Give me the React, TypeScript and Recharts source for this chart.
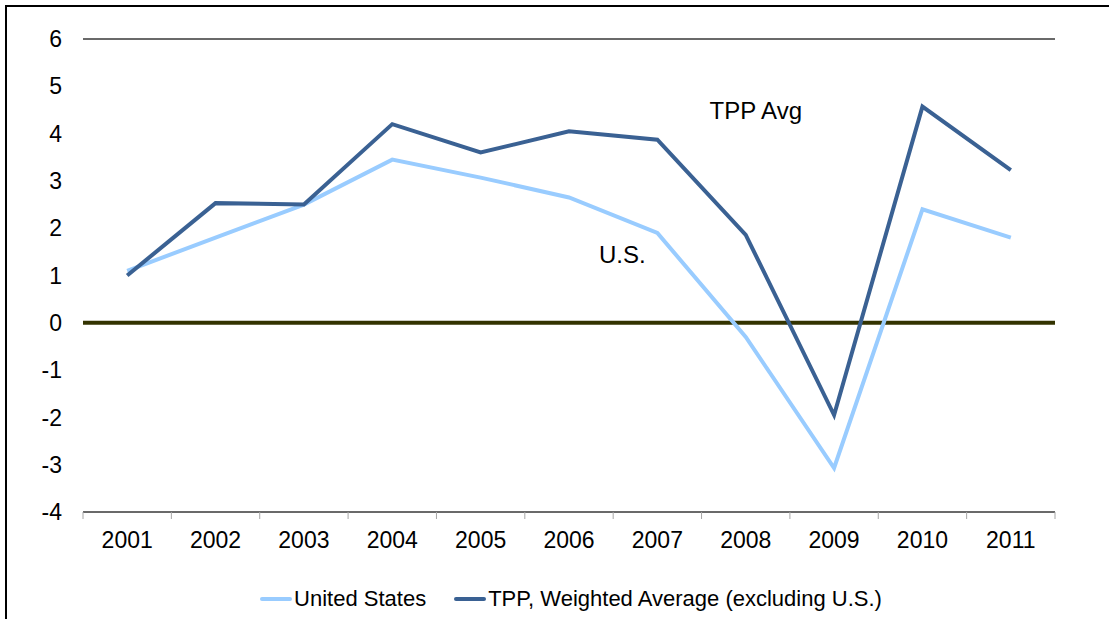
import React from 'react';
import {
  CartesianGrid,
  Legend,
  Line,
  LineChart,
  ReferenceDot,
  ReferenceLine,
  XAxis,
  YAxis,
} from 'recharts';

const YEARS = ['2001', '2002', '2003', '2004', '2005', '2006', '2007', '2008', '2009', '2010', '2011'];
const US = [1.1, 1.8, 2.5, 3.45, 3.07, 2.65, 1.9, -0.3, -3.07, 2.4, 1.8];
const TPP = [1.0, 2.53, 2.5, 4.2, 3.6, 4.05, 3.87, 1.86, -1.95, 4.57, 3.23];
const Y_TICKS = [-4, -3, -2, -1, 0, 1, 2, 3, 4, 5, 6];

const SERIES = [
  { key: 'us', label: 'United States', color: '#99CCFF' },
  { key: 'tpp', label: 'TPP, Weighted Average (excluding U.S.)', color: '#3A6193' },
];

const data = YEARS.map((year, i) => ({ year, us: US[i], tpp: TPP[i] }));

const FONT = '"Liberation Sans", Arial, sans-serif';
const W = 1100;
const H = 610;
const LEFT_W = 76;
const RIGHT_W = 52;
const HALF_BAND = (W - LEFT_W - RIGHT_W) / YEARS.length / 2;

function YearTick(props: any) {
  const { x, y, payload, index } = props;
  const last = index === YEARS.length - 1;
  return (
    <g>
      <line x1={x - HALF_BAND} x2={x - HALF_BAND} y1={y} y2={y + 7} stroke="#a6a6a6" />
      {last && <line x1={x + HALF_BAND} x2={x + HALF_BAND} y1={y} y2={y + 7} stroke="#a6a6a6" />}
      <text x={x} y={y + 28} textAnchor="middle" dominantBaseline="central" fontSize={23} fill="#000" fontFamily={FONT}>
        {payload.value}
      </text>
    </g>
  );
}

function LegendContent() {
  return (
    <div style={{ height: 60, display: 'flex', justifyContent: 'center', paddingTop: 23, paddingLeft: 28, boxSizing: 'border-box', fontFamily: FONT, fontSize: 22, lineHeight: '26px', color: '#000' }}>
      {SERIES.map((s, i) => (
        <div key={s.key} style={{ display: 'flex', alignItems: 'center', marginLeft: i ? 28 : 0 }}>
          <span style={{ display: 'inline-block', width: 32, height: 4, borderRadius: 2, background: s.color, marginRight: 2 }} />
          <span>{s.label}</span>
        </div>
      ))}
    </div>
  );
}

function note(text: string, dx: number) {
  return (p: any) => (
    <text x={p.cx + dx} y={p.cy} textAnchor="middle" dominantBaseline="central" fontSize={24} fill="#000" fontFamily={FONT}>
      {text}
    </text>
  );
}

export default function App() {
  return (
    <div
      style={{
        position: 'fixed',
        left: 5,
        top: 5,
        width: 1120,
        height: 630,
        borderLeft: '2px solid #000',
        borderTop: '2px solid #000',
        background: '#fff',
      }}
    >
      <LineChart width={W} height={H} data={data} margin={{ top: 32, right: 0, left: 0, bottom: 0 }}>
        <CartesianGrid vertical={false} stroke="#a6a6a6" />
        <XAxis
          dataKey="year"
          scale="band"
          height={45}
          tickLine={false}
          tickSize={0}
          tickMargin={0}
          axisLine={{ stroke: '#000' }}
          tick={<YearTick />}
          interval={0}
        />
        <YAxis
          yAxisId="left"
          domain={[-4, 6]}
          ticks={Y_TICKS}
          width={LEFT_W}
          axisLine={false}
          tickLine={false}
          tickSize={0}
          tickMargin={21}
          tick={{ fontSize: 23, fill: '#000', fontFamily: FONT }}
        />
        <YAxis
          yAxisId="right"
          orientation="right"
          domain={[-4, 6]}
          ticks={Y_TICKS}
          width={RIGHT_W}
          axisLine={false}
          tickLine={false}
          tickSize={0}
          tickMargin={20}
          tick={{ fontSize: 23, fill: '#000', fontFamily: FONT, textAnchor: 'start' }}
        />
        <ReferenceLine yAxisId="left" y={6} stroke="#000" strokeWidth={1} />
        <ReferenceLine yAxisId="left" y={0} stroke="#333300" strokeWidth={4} />
        {SERIES.map(s => (
          <Line
            key={s.key}
            yAxisId="left"
            type="linear"
            dataKey={s.key}
            name={s.label}
            stroke={s.color}
            strokeWidth={4}
            dot={false}
            activeDot={false}
            isAnimationActive={false}
          />
        ))}
        <ReferenceDot yAxisId="left" x="2008" y={4.48} r={0} shape={note('TPP Avg', 10)} />
        <ReferenceDot yAxisId="left" x="2007" y={1.45} r={0} shape={note('U.S.', -35)} />
        <Legend verticalAlign="bottom" content={<LegendContent />} />
      </LineChart>
    </div>
  );
}
